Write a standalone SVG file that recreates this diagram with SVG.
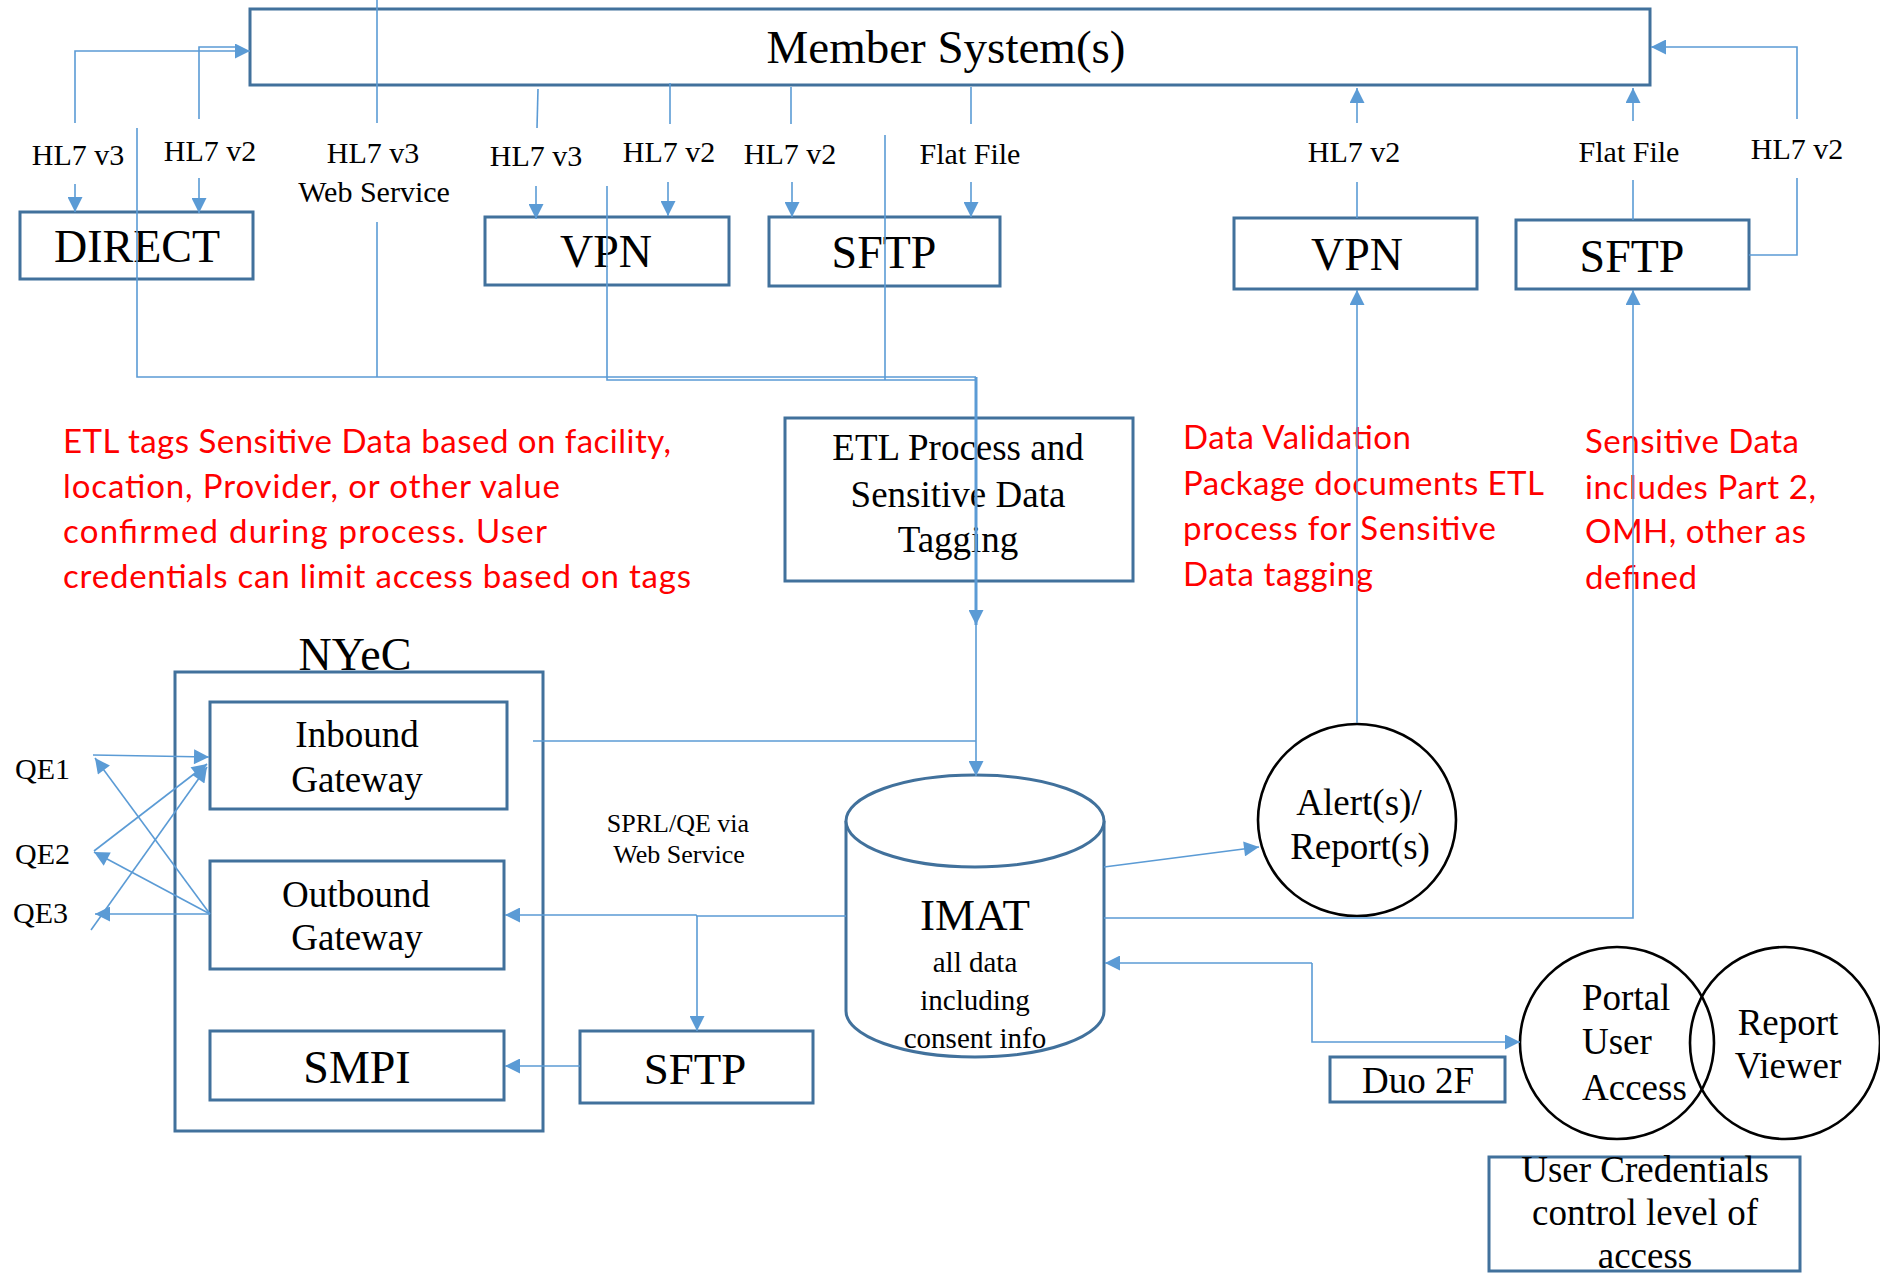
<svg xmlns="http://www.w3.org/2000/svg" width="1880" height="1273" viewBox="0 0 1880 1273">
<defs>
<marker id="arr" viewBox="0 0 10 10" refX="10" refY="5" markerWidth="16" markerHeight="15" markerUnits="userSpaceOnUse" orient="auto"><path d="M0,0 L10,5 L0,10 z" fill="#5B9BD5"/></marker>
<style>
.box{fill:none;stroke:#41719C;stroke-width:3}
.circ{fill:none;stroke:#000;stroke-width:2.6}
.t{font-family:"Liberation Serif","Times New Roman",serif;fill:#000;text-anchor:middle}
.s{text-anchor:start}
.lab{font-size:30px}
.big{font-size:46px}
.mid{font-size:37px}
.red{font-family:Lato,"Liberation Sans",sans-serif;font-size:33px;fill:#FF0000}
.ln{fill:none;stroke:#5B9BD5;stroke-width:1.6}
.la{fill:none;stroke:#5B9BD5;stroke-width:1.6;marker-end:url(#arr)}
</style>
</defs>
<rect width="1880" height="1273" fill="#fff"/>

<g id="member-systems"><rect class="box" x="250" y="9" width="1400" height="76"/><text class="t" x="946" y="63" font-size="47">Member System(s)</text></g>
<g id="direct"><rect class="box" x="20" y="212" width="233" height="67"/><text class="t big" x="137" y="262">DIRECT</text></g>
<g id="vpn-in"><rect class="box" x="485" y="217" width="244" height="68"/><text class="t big" x="606" y="267">VPN</text></g>
<g id="sftp-in"><rect class="box" x="769" y="217" width="231" height="69"/><text class="t big" x="884" y="268">SFTP</text></g>
<g id="vpn-out"><rect class="box" x="1234" y="218" width="243" height="71"/><text class="t big" x="1357" y="270">VPN</text></g>
<g id="sftp-out"><rect class="box" x="1516" y="220" width="233" height="69"/><text class="t big" x="1632" y="272">SFTP</text></g>
<g id="etl"><rect class="box" x="785" y="418" width="348" height="163"/><text class="t mid" x="958" y="460">ETL Process and</text><text class="t mid" x="958" y="507">Sensitive  Data</text><text class="t mid" x="958" y="552">Tagging</text></g>
<g id="nyec"><rect class="box" x="175" y="672" width="368" height="459"/><text class="t big" x="355" y="670">NYeC</text></g>
<g id="inbound"><rect class="box" x="210" y="702" width="297" height="107"/><text class="t mid" x="357" y="747">Inbound</text><text class="t mid" x="357" y="792">Gateway</text></g>
<g id="outbound"><rect class="box" x="210" y="861" width="294" height="108"/><text class="t mid" x="356" y="907">Outbound</text><text class="t mid" x="357" y="950">Gateway</text></g>
<g id="smpi"><rect class="box" x="210" y="1031" width="294" height="69"/><text class="t big" x="357" y="1083">SMPI</text></g>
<g id="sftp-bottom"><rect class="box" x="580" y="1031" width="233" height="72"/><text class="t" x="695" y="1084" font-size="45">SFTP</text></g>
<g id="imat"><path d="M846,821 V1011 A129,46 0 0 0 1104,1011 V821" fill="#fff" stroke="#41719C" stroke-width="3"/><ellipse cx="975" cy="821" rx="129" ry="46" fill="#fff" stroke="#41719C" stroke-width="3"/><text class="t" x="975" y="930" font-size="45">IMAT</text><text class="t" x="975" y="972" font-size="29">all  data</text><text class="t" x="975" y="1010" font-size="29">including</text><text class="t" x="975" y="1048" font-size="29">consent  info</text></g>
<g id="alerts"><ellipse class="circ" cx="1357" cy="820" rx="99" ry="96"/><text class="t mid" x="1359" y="815">Alert(s)/</text><text class="t mid" x="1360" y="859">Report(s)</text></g>
<g id="portal"><ellipse class="circ" cx="1617" cy="1043" rx="97" ry="96"/><text class="t mid s" x="1582" y="1010">Portal</text><text class="t mid s" x="1582" y="1054">User</text><text class="t mid s" x="1582" y="1100">Access</text></g>
<g id="report-viewer"><ellipse class="circ" cx="1785" cy="1043" rx="95" ry="96"/><text class="t mid" x="1788" y="1035">Report</text><text class="t mid" x="1788" y="1078">Viewer</text></g>
<g id="duo"><rect class="box" x="1330" y="1057" width="175" height="45"/><text class="t mid" x="1418" y="1093">Duo  2F</text></g>
<g id="user-credentials"><rect class="box" x="1489" y="1157" width="311" height="114"/><text class="t mid" x="1645" y="1182">User Credentials</text><text class="t mid" x="1645" y="1225">control level  of</text><text class="t mid" x="1645" y="1268">access</text></g>
<g id="qe"><text class="t lab s" x="15" y="779">QE1</text><text class="t lab s" x="15" y="864">QE2</text><text class="t lab s" x="13" y="923">QE3</text></g>

<g id="notes">
<text class="red" x="63" y="453" textLength="608">ETL tags Sensitive Data based on facility,</text>
<text class="red" x="63" y="498" textLength="497">location, Provider, or other value</text>
<text class="red" x="63" y="543" textLength="484">confirmed during process.  User</text>
<text class="red" x="63" y="588" textLength="628">credentials can limit  access based on tags</text>
<text class="red" x="1183" y="449" textLength="228">Data Validation</text>
<text class="red" x="1183" y="495" textLength="361">Package documents ETL</text>
<text class="red" x="1183" y="540" textLength="313">process for Sensitive</text>
<text class="red" x="1183" y="586" textLength="190">Data tagging</text>
<text class="red" x="1585" y="453" textLength="214">Sensitive Data</text>
<text class="red" x="1585" y="499" textLength="231">includes Part 2,</text>
<text class="red" x="1585" y="543" textLength="221">OMH, other as</text>
<text class="red" x="1585" y="589" textLength="112">defined</text>
<text class="t" x="678" y="832" font-size="26">SPRL/QE  via</text>
<text class="t" x="679" y="863" font-size="26">Web Service</text>
</g>

<g id="labels">
<text class="t lab" x="78" y="165">HL7  v3</text>
<text class="t lab" x="210" y="161">HL7  v2</text>
<text class="t lab" x="373" y="163">HL7  v3</text>
<text class="t lab" x="374" y="202">Web Service</text>
<text class="t lab" x="536" y="166">HL7  v3</text>
<text class="t lab" x="669" y="162">HL7  v2</text>
<text class="t lab" x="790" y="164">HL7  v2</text>
<text class="t lab" x="970" y="164">Flat  File</text>
<text class="t lab" x="1354" y="162">HL7  v2</text>
<text class="t lab" x="1629" y="162">Flat  File</text>
<text class="t lab" x="1797" y="159">HL7  v2</text>
</g>

<g id="connectors">
<path class="la" d="M75,123 V51 H250"/>
<path class="ln" d="M199,119 V47 H240"/>
<path class="la" d="M75,184 V212"/>
<path class="la" d="M199,178 V213"/>
<path class="ln" d="M377,0 V123"/>
<path class="ln" d="M377,222 V377"/>
<path class="ln" d="M137,128 V377 H976"/>
<path class="ln" d="M607,186 V380 H976"/>
<path class="ln" d="M885,135 V380"/>
<path class="la" d="M976,377 V625" style="stroke-width:3"/>
<path class="la" d="M976,625 V776"/>
<path class="ln" d="M533,741 H976"/>
<path class="ln" d="M538,89 L537,128"/>
<path class="la" d="M536,186 V219"/>
<path class="ln" d="M670,83 V124"/>
<path class="la" d="M668,182 V216"/>
<path class="ln" d="M791,87 V124"/>
<path class="la" d="M792,182 V217"/>
<path class="ln" d="M971,87 V124"/>
<path class="la" d="M971,182 V217"/>
<path class="la" d="M1357,723 V290"/>
<path class="ln" d="M1357,218 V182"/>
<path class="la" d="M1357,123 V88"/>
<path class="ln" d="M1633,220 V180"/>
<path class="la" d="M1633,121 V88"/>
<path class="ln" d="M1749,255 H1797 V178"/>
<path class="la" d="M1797,119 V47 H1651"/>
<path class="la" d="M1104,918 H1633 V290"/>
<path class="la" d="M1104,867 L1259,847"/>
<path class="la" d="M1312,963 H1105"/>
<path class="la" d="M1312,963 V1042 H1520"/>
<path class="la" d="M846,916 H697 L696,915 H505"/>
<path class="la" d="M697,916 V1031"/>
<path class="la" d="M580,1066 H505"/>
<path class="la" d="M93,755 L209,757"/>
<path class="la" d="M210,914 L95,758"/>
<path class="la" d="M94,851 L207,764"/>
<path class="la" d="M210,914 L94,852"/>
<path class="la" d="M91,930 L207,767"/>
<path class="la" d="M210,914 H95"/>
</g>
</svg>
